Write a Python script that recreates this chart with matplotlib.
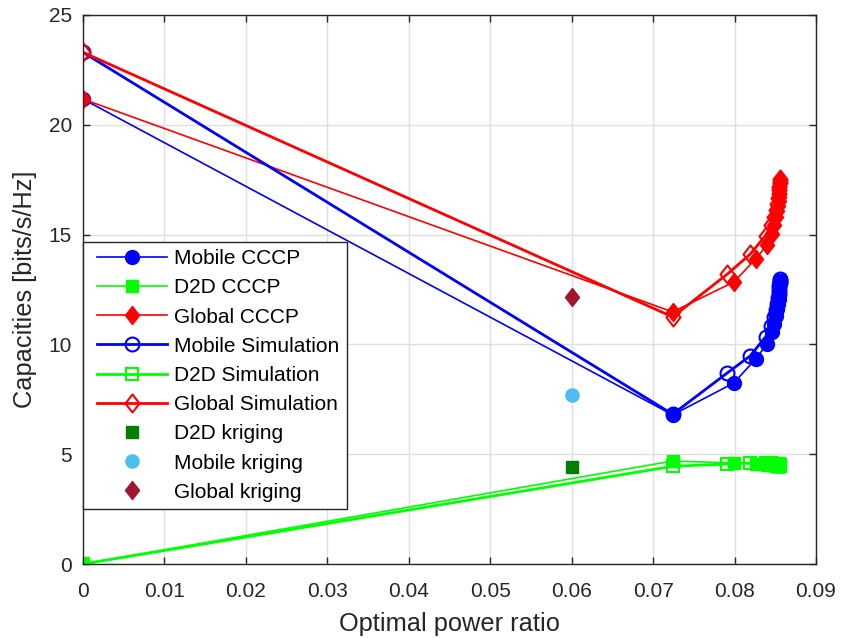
import matplotlib
matplotlib.use("Agg")
import matplotlib.pyplot as plt
from matplotlib.path import Path
from matplotlib.legend_handler import HandlerLine2D
from matplotlib.lines import Line2D

plt.rcParams['font.family'] = ['Liberation Sans', 'DejaVu Sans']

# Optimal power ratio for each iteration
ratio_cccp = [0, 0.0724, 0.0799, 0.0826, 0.0840, 0.0846, 0.0849, 0.0851, 0.0852,
              0.0853, 0.0854, 0.0854, 0.0855, 0.0855, 0.0855, 0.0856]
mobile_cccp = [21.17, 6.79, 8.24, 9.34, 10.02, 10.55, 10.95, 11.30, 11.60,
               11.85, 12.05, 12.25, 12.45, 12.60, 12.75, 12.90]
d2d_cccp = [0, 4.69, 4.60, 4.55, 4.52, 4.50, 4.49, 4.48, 4.48,
            4.47, 4.47, 4.47, 4.46, 4.46, 4.46, 4.46]
global_cccp = [21.17, 11.48, 12.84, 13.89, 14.54, 15.05, 15.44, 15.78, 16.08,
               16.32, 16.52, 16.72, 16.91, 17.06, 17.21, 17.36]

ratio_sim = [0, 0.0724, 0.0791, 0.0819, 0.0838, 0.0845, 0.0849, 0.0851, 0.0852,
             0.0853, 0.0854, 0.0855, 0.0855, 0.0856, 0.0856, 0.0856]
mobile_sim = [23.30, 6.82, 8.70, 9.47, 10.34, 10.85, 11.25, 11.55, 11.85,
              12.10, 12.30, 12.50, 12.65, 12.80, 12.90, 13.00]
d2d_sim = [0, 4.45, 4.55, 4.60, 4.60, 4.58, 4.57, 4.56, 4.55,
           4.55, 4.54, 4.54, 4.54, 4.53, 4.53, 4.53]
global_sim = [23.30, 11.25, 13.20, 14.10, 14.95, 15.43, 15.82, 16.11, 16.40,
              16.65, 16.84, 17.04, 17.19, 17.33, 17.43, 17.55]

# Kriging estimates
ratio_krig = [0.06]
d2d_krig = [4.42]
mobile_krig = [7.70]
global_krig = [12.16]

x_ticks = [0, 0.01, 0.02, 0.03, 0.04, 0.05, 0.06, 0.07, 0.08, 0.09]
x_tick_labels = ['0', '0.01', '0.02', '0.03', '0.04', '0.05', '0.06', '0.07', '0.08', '0.09']
y_ticks = [0, 5, 10, 15, 20, 25]

# tall diamond like MATLAB's 'd'
tall_diamond = Path([(0, 1), (0.78, 0), (0, -1), (-0.78, 0), (0, 1)],
                    [Path.MOVETO, Path.LINETO, Path.LINETO, Path.LINETO, Path.CLOSEPOLY])

BLUE, GREEN, RED = '#0000FF', '#00FF00', '#FF0000'

fig = plt.figure(figsize=(8.42, 6.38), dpi=100)
ax = fig.add_axes([83 / 842, 74 / 638, 733 / 842, 549 / 638])

lw_c, lw_s = 1.2, 2.0
ax.plot(ratio_cccp, mobile_cccp, '-', color=BLUE, lw=lw_c, marker='o', ms=10,
        mfc=BLUE, mec=BLUE, label='Mobile CCCP')
ax.plot(ratio_cccp, d2d_cccp, '-', color=GREEN, lw=lw_c, marker='s', ms=8.5,
        mfc=GREEN, mec=GREEN, label='D2D CCCP')
ax.plot(ratio_cccp, global_cccp, '-', color=RED, lw=lw_c, marker=tall_diamond, ms=13,
        mfc=RED, mec=RED, label='Global CCCP')
ax.plot(ratio_sim, mobile_sim, '-', color=BLUE, lw=lw_s, marker='o', ms=10,
        mfc='none', mec=BLUE, mew=1.5, label='Mobile Simulation')
ax.plot(ratio_sim, d2d_sim, '-', color=GREEN, lw=lw_s, marker='s', ms=8.5,
        mfc='none', mec=GREEN, mew=1.5, label='D2D Simulation')
ax.plot(ratio_sim, global_sim, '-', color=RED, lw=lw_s, marker=tall_diamond, ms=13,
        mfc='none', mec=RED, mew=1.5, label='Global Simulation')
ax.plot(ratio_krig, d2d_krig, 's', color='#007F00', ms=8, label='D2D kriging')
ax.plot(ratio_krig, mobile_krig, 'o', color='#4DBEEE', ms=9.5, label='Mobile kriging')
ax.plot(ratio_krig, global_krig, marker=tall_diamond, ls='none', color='#A2142F', ms=13,
        label='Global kriging')

ax.set_xlim(0, 0.09)
ax.set_ylim(0, 25)
ax.set_xticks(x_ticks)
ax.set_xticklabels(x_tick_labels)
ax.set_yticks(y_ticks)
ax.grid(True, color='#dfdfdf', lw=1)
ax.set_axisbelow(True)

for s in ax.spines.values():
    s.set_color('#262626')
    s.set_linewidth(1.0)
ax.tick_params(direction='in', length=5, width=1, colors='#262626', labelsize=15,
               top=True, right=True, pad=8)
ax.tick_params(axis='x', pad=13)
for lab in ax.get_xticklabels() + ax.get_yticklabels():
    lab.set_color('#262626')

ax.set_xlabel('Optimal power ratio', fontsize=18.3, color='#262626', labelpad=8)
ax.set_ylabel('Capacities [bits/s/Hz]', fontsize=18.3, color='#262626', labelpad=8)

# legend handles inset from the frame edge
inset = HandlerLine2D(xpad=0.34)
leg = ax.legend(loc='upper left', bbox_to_anchor=(0.0, 0.5865), fontsize=15,
                frameon=True, fancybox=False, framealpha=1, edgecolor='#262626',
                handlelength=3.7, handletextpad=0.34, labelspacing=0.49,
                borderaxespad=0, borderpad=0.34,
                handler_map={Line2D: inset})
leg.get_frame().set_linewidth(1.0)
for t in leg.get_texts():
    t.set_color('#000000')

fig.savefig('out.png', dpi=100)
